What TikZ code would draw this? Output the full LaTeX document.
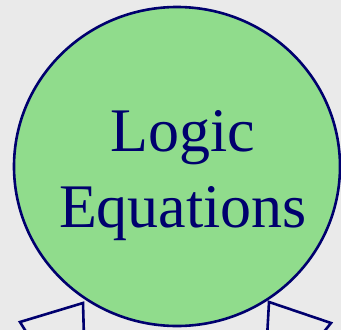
\documentclass[tikz,border=0pt]{standalone}
\usepackage{fontspec}
\setmainfont{Liberation Serif}
\usetikzlibrary{shapes.geometric, positioning}
\definecolor{mybg}{RGB}{234,234,234}
\definecolor{mygreen}{RGB}{144,220,140}
\definecolor{mynavy}{RGB}{0,0,110}
\tikzset{
  bigcircle/.style={ellipse, draw=mynavy, fill=mygreen,
    minimum width=326pt, minimum height=319pt,
    inner sep=0pt, line width=2.6pt},
  bigtext/.style={text=mynavy, align=center,
    font=\fontsize{62}{76}\selectfont, inner sep=0pt},
  stub/.style={draw=mynavy, line width=2.6pt, line join=miter}
}

\begin{document}
\begin{tikzpicture}[x=1pt, y=-1pt]
  \fill[mybg] (0,0) rectangle (341,330);
  \useasboundingbox (0,0) rectangle (341,330);
  \clip (0,0) rectangle (341,330);
  \node[bigcircle] (circ) at (177,166.5) {};
  \node[bigtext] (label) at (183,175.5) {Logic\\Equations};
  % cut-off shapes at the bottom
  \draw[stub] (30,338) -- (20,322) -- (83,303) -- (84,338);
  \draw[stub] (267,338) -- (269,302) -- (331,323) -- (319,338);
\end{tikzpicture}
\end{document}
